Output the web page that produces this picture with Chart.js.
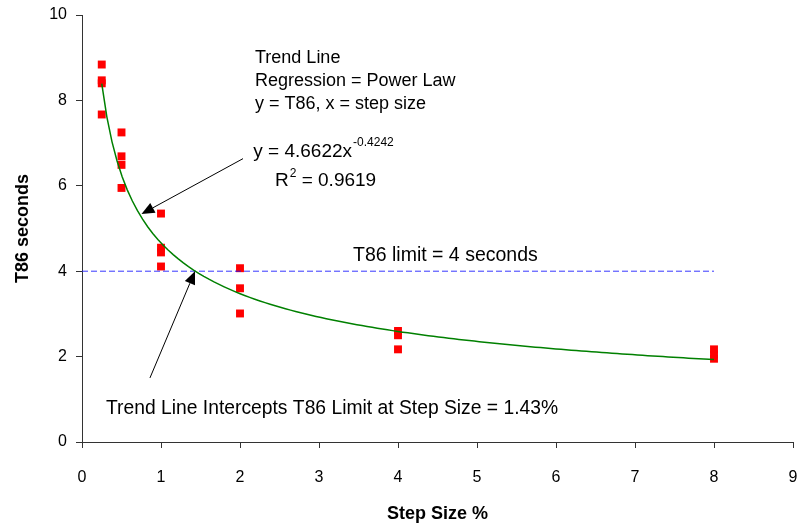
<!DOCTYPE html>
<html>
<head>
<meta charset="utf-8">
<script src="https://cdn.jsdelivr.net/npm/chart.js@4.4.1/dist/chart.umd.min.js"></script>
<style>
  html, body { margin: 0; padding: 0; background: #fff; }
  #wrap { width: 810px; height: 525px; }
</style>
</head>
<body>
<div id="wrap"><canvas id="t86Chart"></canvas></div>
<script>
// measured T86 times per step size
const stepSizes = [0.25, 0.25, 0.25, 0.25, 0.5, 0.5, 0.5, 0.5, 1, 1, 1, 1, 2, 2, 2, 4, 4, 4, 8, 8, 8];
const t86Values = [8.84, 8.47, 8.40, 7.67, 7.25, 6.69, 6.49, 5.95, 5.35, 4.55, 4.44, 4.11, 4.07, 3.60, 3.01, 2.60, 2.50, 2.17, 2.17, 2.05, 1.95];

// power law fit y = a * x^b
const trendCoef = 4.6622;
const trendExp = -0.4242;
const trendRange = [0.25, 8];

const t86Limit = 4;
const limitRange = [0, 8];
const interceptStep = 1.43;

const xTicks = [0, 1, 2, 3, 4, 5, 6, 7, 8, 9];
const yTicks = [0, 2, 4, 6, 8, 10];

const FONT = '"Liberation Sans", Arial, sans-serif';

function trendPoints() {
    const pts = [];
    const n = 120;
    for (let i = 0; i <= n; i++) {
        const x = trendRange[0] + (trendRange[1] - trendRange[0]) * i / n;
        pts.push({ x: x, y: trendCoef * Math.pow(x, trendExp) });
    }
    return pts;
}

function drawArrow(ctx, x0, y0, x1, y1) {
    const ang = Math.atan2(y1 - y0, x1 - x0);
    const len = 13, half = 5.5;
    const bx = x1 - len * Math.cos(ang), by = y1 - len * Math.sin(ang);
    ctx.beginPath();
    ctx.moveTo(x0, y0);
    ctx.lineTo(bx, by);
    ctx.stroke();
    ctx.beginPath();
    ctx.moveTo(x1, y1);
    ctx.lineTo(bx + half * Math.sin(ang), by - half * Math.cos(ang));
    ctx.lineTo(bx - half * Math.sin(ang), by + half * Math.cos(ang));
    ctx.closePath();
    ctx.fill();
}

// text and arrows placed in data coordinates
const notes = {
    id: 'notes',
    afterDatasetsDraw(chart) {
        const ctx = chart.ctx;
        const sx = chart.scales.x, sy = chart.scales.y;
        const px = v => sx.getPixelForValue(v);
        const py = v => sy.getPixelForValue(v);
        ctx.save();
        ctx.fillStyle = '#000';
        ctx.strokeStyle = '#000';
        ctx.lineWidth = 1;
        ctx.textAlign = 'left';
        ctx.textBaseline = 'alphabetic';

        ctx.font = '18px ' + FONT;
        ctx.fillText('Trend Line', px(2.19), py(8.87));
        ctx.fillText('Regression = Power Law', px(2.19), py(8.33));
        ctx.fillText('y = T86, x = step size', px(2.19), py(7.79));

        // equation with superscript exponent
        ctx.font = '19px ' + FONT;
        let x = px(2.168), y = py(6.68);
        const eq = 'y = ' + trendCoef + 'x';
        ctx.fillText(eq, x, y);
        let w = ctx.measureText(eq).width;
        ctx.font = '12px ' + FONT;
        ctx.fillText(String(trendExp), x + w + 1, y - 11);

        x = px(2.443); y = py(6.005);
        ctx.font = '19px ' + FONT;
        ctx.fillText('R', x, y);
        w = ctx.measureText('R').width;
        ctx.font = '12px ' + FONT;
        ctx.fillText('2', x + w + 1, y - 9);
        const w2 = ctx.measureText('2').width;
        ctx.font = '19px ' + FONT;
        ctx.fillText(' = 0.9619', x + w + w2 + 1, y);

        ctx.font = '19.5px ' + FONT;
        ctx.fillText('T86 limit = ' + t86Limit + ' seconds', px(3.43), py(4.25));
        ctx.font = '19.3px ' + FONT;
        ctx.fillText('Trend Line Intercepts T86 Limit at Step Size = ' + interceptStep + '%', px(0.304), py(0.654));

        drawArrow(ctx, px(2.038), py(6.636), px(0.753), py(5.339));
        drawArrow(ctx, px(0.86), py(1.50), px(interceptStep), py(t86Limit));
        ctx.restore();
    }
};

const data = {
    datasets: [
        {
            label: 'Trend Line',
            type: 'line',
            data: trendPoints(),
            borderColor: '#008000',
            borderWidth: 1.5,
            pointRadius: 0,
            tension: 0,
            order: 1
        },
        {
            label: 'T86 limit',
            type: 'line',
            data: limitRange.map(v => ({ x: v, y: t86Limit })),
            borderColor: 'rgba(20, 20, 255, 0.85)',
            borderWidth: 1,
            borderDash: [6, 3],
            pointRadius: 0,
            order: 2
        },
        {
            label: 'T86',
            type: 'scatter',
            data: stepSizes.map((s, i) => ({ x: s, y: t86Values[i] })),
            backgroundColor: '#ff0000',
            borderWidth: 0,
            pointStyle: 'rect',
            pointRadius: 5.6,
            order: 3
        }
    ]
};

const config = {
    type: 'scatter',
    data: data,
    options: {
        responsive: true,
        maintainAspectRatio: false,
        animation: false,
        layout: {
            padding: { top: 15, right: 17, bottom: 0, left: 0 }
        },
        plugins: {
            legend: { display: false },
            tooltip: { enabled: false }
        },
        scales: {
            x: {
                type: 'linear',
                min: 0,
                max: 9,
                afterFit: s => {
                    s.height = 83;
                    s.paddingLeft = 0;
                    s.paddingRight = 0;
                },
                afterBuildTicks: s => { s.ticks = xTicks.map(v => ({ value: v })); },
                ticks: {
                    color: '#000',
                    padding: 20,
                    font: { family: FONT, size: 16 }
                },
                grid: {
                    drawOnChartArea: false,
                    drawTicks: true,
                    tickLength: 6,
                    color: '#333'
                },
                border: { color: '#333' },
                title: {
                    display: true,
                    text: 'Step Size %',
                    color: '#000',
                    padding: { top: 0, bottom: 0 },
                    font: { family: FONT, size: 18, weight: 'bold' }
                }
            },
            y: {
                min: 0,
                max: 10,
                afterFit: s => {
                    s.width = 82;
                    s.paddingTop = 0;
                    s.paddingBottom = 0;
                },
                afterBuildTicks: s => { s.ticks = yTicks.map(v => ({ value: v })); },
                ticks: {
                    color: '#000',
                    padding: 9,
                    font: { family: FONT, size: 16 }
                },
                grid: {
                    drawOnChartArea: false,
                    drawTicks: true,
                    tickLength: 6,
                    color: '#333'
                },
                border: { color: '#333' },
                title: {
                    display: true,
                    text: 'T86 seconds',
                    color: '#000',
                    padding: { top: 12, bottom: 0 },
                    font: { family: FONT, size: 18, weight: 'bold' }
                }
            }
        }
    },
    plugins: [notes]
};

new Chart('t86Chart', config);
</script>
</body>
</html>
